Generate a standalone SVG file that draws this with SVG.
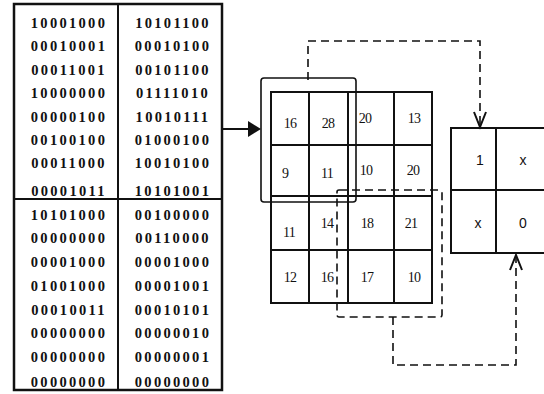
<svg xmlns="http://www.w3.org/2000/svg" width="544" height="394" viewBox="0 0 544 394">
<defs>
<style>
.bin{font-family:"Liberation Serif",serif;font-weight:bold;font-size:14.5px;letter-spacing:2.3px;text-anchor:middle;fill:#111}
.num{font-family:"Liberation Serif",serif;font-size:14px;letter-spacing:-0.8px;text-anchor:middle;fill:#111}
.lbl{font-family:"Liberation Sans",Arial,sans-serif;font-size:14px;text-anchor:middle;fill:#111}
.thick{fill:none;stroke:#111;stroke-width:2.5}
.grid{fill:none;stroke:#111;stroke-width:2}
.dash{fill:none;stroke:#111;stroke-width:1.6;stroke-dasharray:8 5}
</style>
</defs>
<rect width="544" height="394" fill="#fff"/>

<g id="binary-table">
<rect class="thick" x="14" y="4" width="208" height="386"/>
<line class="grid" x1="118" y1="4" x2="118" y2="390"/>
<line class="grid" x1="14" y1="199" x2="222" y2="199"/>
<g class="bin">
<text x="69" y="28">10001000</text><text x="173" y="28">10101100</text>
<text x="69" y="51">00010001</text><text x="173" y="51">00010100</text>
<text x="69" y="75">00011001</text><text x="173" y="75">00101100</text>
<text x="69" y="98">10000000</text><text x="173" y="98">01111010</text>
<text x="69" y="122">00000100</text><text x="173" y="122">10010111</text>
<text x="69" y="145">00100100</text><text x="173" y="145">01000100</text>
<text x="69" y="168">00011000</text><text x="173" y="168">10010100</text>
<text x="69" y="196">00001011</text><text x="173" y="196">10101001</text>
<text x="69" y="220">10101000</text><text x="173" y="220">00100000</text>
<text x="69" y="243">00000000</text><text x="173" y="243">00110000</text>
<text x="69" y="267">00001000</text><text x="173" y="267">00001000</text>
<text x="69" y="291">01001000</text><text x="173" y="291">00001001</text>
<text x="69" y="315">00010011</text><text x="173" y="315">00010101</text>
<text x="69" y="338">00000000</text><text x="173" y="338">00000010</text>
<text x="69" y="362">00000000</text><text x="173" y="362">00000001</text>
<text x="69" y="387">00000000</text><text x="173" y="387">00000000</text>
</g>
</g>

<g id="value-grid">
<rect class="grid" x="271" y="92" width="161" height="211"/>
<line class="grid" x1="309" y1="92" x2="309" y2="303"/>
<line class="grid" x1="348" y1="92" x2="348" y2="303"/>
<line class="grid" x1="394" y1="92" x2="394" y2="303"/>
<line class="grid" x1="271" y1="145" x2="432" y2="145"/>
<line class="grid" x1="271" y1="196" x2="432" y2="196"/>
<line class="grid" x1="271" y1="250" x2="432" y2="250"/>
<g class="num">
<text x="290" y="128">16</text><text x="328" y="128">28</text><text x="365" y="123">20</text><text x="414" y="123">13</text>
<text x="285" y="178">9</text><text x="327" y="178">11</text><text x="366" y="175">10</text><text x="413" y="175">20</text>
<text x="289" y="237">11</text><text x="327" y="228">14</text><text x="367" y="228">18</text><text x="411" y="228">21</text>
<text x="290" y="282">12</text><text x="327" y="282">16</text><text x="367" y="282">17</text><text x="414" y="282">10</text>
</g>
</g>

<g id="window-solid">
<rect x="261" y="78" width="95" height="124" rx="3" fill="none" stroke="#111" stroke-width="1.6"/>
</g>

<g id="window-dashed">
<rect class="dash" x="337" y="190" width="105" height="127" rx="2"/>
</g>

<g id="result-box">
<rect class="grid" x="451" y="128" width="100" height="125"/>
<line class="grid" x1="496" y1="128" x2="496" y2="253"/>
<line class="grid" x1="451" y1="190" x2="551" y2="190"/>
<text class="lbl" x="480" y="165">1</text>
<text class="lbl" x="523" y="165">x</text>
<text class="lbl" x="478" y="228">x</text>
<text class="lbl" x="523" y="228">0</text>
</g>

<g id="connectors">
<line x1="222" y1="129" x2="250" y2="129" stroke="#111" stroke-width="2"/>
<polygon points="248,121 261,129 248,137" fill="#111"/>
<polyline class="dash" points="308,80 308,41 480,41 480,126"/>
<polyline points="474,112 480,127 486,112" fill="none" stroke="#111" stroke-width="2"/>
<polyline class="dash" points="393,317 393,365 516,365 516,257"/>
<polyline points="510,270 516,255 522,270" fill="none" stroke="#111" stroke-width="2"/>
</g>
</svg>
